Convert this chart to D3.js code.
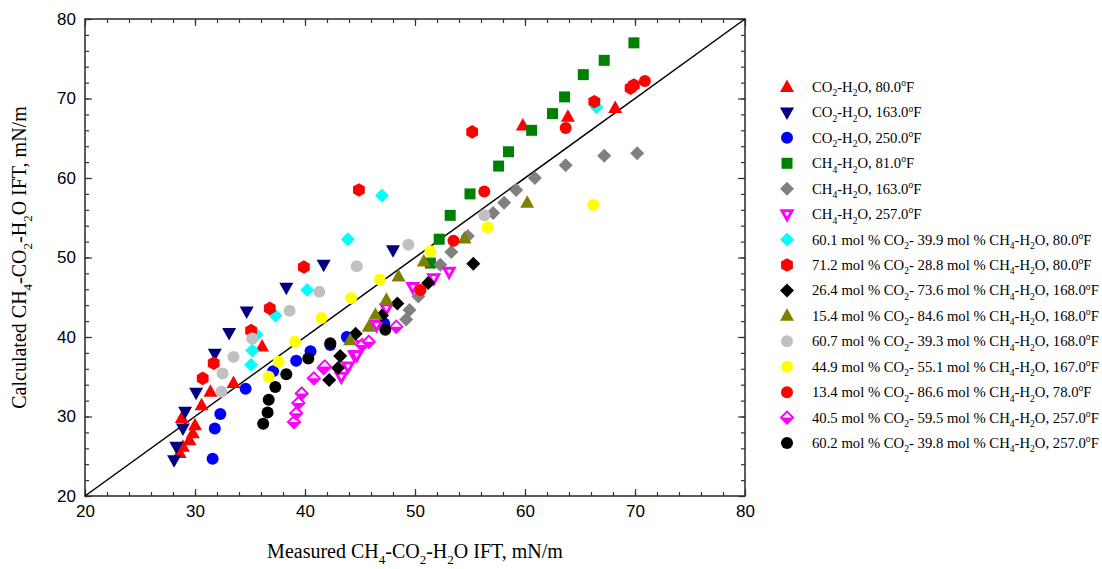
<!DOCTYPE html>
<html>
<head>
<meta charset="utf-8">
<script src="https://cdn.jsdelivr.net/npm/d3@7"></script>
<style>
  body { margin: 0; background: #fff; }
  svg { display: block; }
</style>
</head>
<body>
<div id="chart"></div>
<script>
// measured (x) vs calculated (y) IFT
const co2h2o80 = [[28.6,25.4],[28.9,26.2],[29.5,27.0],[29.8,27.9],[30.0,28.9],[28.8,29.8],[30.6,31.4],[31.4,33.1],[33.5,34.2],[36.1,38.8],[59.8,66.6],[63.9,67.7],[68.2,68.8]];
const co2h2o163 = [[28.1,24.5],[28.3,26.2],[28.9,28.5],[29.1,30.6],[30.1,33.0],[31.8,37.9],[33.1,40.5],[34.7,43.2],[38.3,46.2],[41.7,49.1],[48.0,50.9]];
const co2h2o250 = [[31.6,24.7],[31.8,28.5],[32.3,30.3],[34.6,33.5],[37.1,35.7],[39.2,37.0],[40.5,38.2],[42.3,39.0],[43.8,40.0],[47.2,41.7]];
const ch4h2o81 = [[51.4,49.3],[52.2,52.3],[53.2,55.3],[55.0,58.0],[57.6,61.5],[58.5,63.3],[60.6,66.0],[62.5,68.1],[63.6,70.2],[65.3,73.0],[67.2,74.8],[69.9,77.0]];
const ch4h2o163 = [[49.2,42.2],[49.5,43.4],[50.3,45.1],[52.3,49.1],[53.3,50.7],[54.8,52.7],[57.1,55.6],[58.1,56.9],[59.2,58.5],[60.9,60.0],[63.7,61.6],[67.2,62.8],[70.2,63.1]];
const ch4h2o257 = [[43.3,35.0],[43.9,36.3],[44.5,37.7],[44.7,37.7],[45.2,39.0],[46.5,41.5],[47.4,43.6],[49.8,46.3],[51.7,47.4],[53.1,48.2]];
const mix601_80 = [[35.1,36.5],[35.2,38.3],[35.6,40.3],[37.3,42.7],[40.2,45.9],[43.9,52.3],[47.0,57.8],[66.5,68.9]];
const mix712_80 = [[30.7,34.8],[31.7,36.7],[35.1,40.8],[36.8,43.6],[39.9,48.8],[44.9,58.5],[55.2,65.8],[66.3,69.6],[69.6,71.3],[69.9,71.7]];
const mix264_168 = [[42.2,34.6],[43.0,36.1],[43.2,37.6],[44.6,40.4],[47.0,42.7],[48.4,44.2],[51.2,46.8],[55.3,49.2]];
const mix154_168 = [[44.1,39.6],[45.8,41.3],[46.4,42.8],[47.4,44.7],[48.5,47.6],[50.8,49.5],[54.5,52.4],[60.2,56.9]];
const mix607_168 = [[32.4,33.1],[32.5,35.4],[33.5,37.5],[35.2,39.8],[38.6,43.3],[41.3,45.7],[44.7,48.9],[49.4,51.6],[56.3,55.3]];
const mix449_167 = [[36.7,35.0],[37.6,36.9],[39.1,39.4],[41.5,42.4],[44.2,44.9],[46.8,47.2],[51.4,50.8],[56.6,53.8],[66.2,56.6]];
const mix134_78 = [[50.5,45.9],[53.5,52.1],[56.3,58.3],[63.7,66.3],[70.9,72.2]];
const mix405_257 = [[39.0,29.3],[39.2,30.4],[39.4,31.7],[39.7,32.9],[40.8,34.8],[41.7,36.1],[41.8,36.3],[45.2,39.0],[45.8,39.4],[48.3,41.3]];
const mix602_257 = [[36.2,29.1],[36.6,30.5],[36.7,32.1],[37.3,33.7],[38.3,35.3],[40.3,37.3],[42.3,39.2],[47.3,40.9]];

const seriesData = [co2h2o80, co2h2o163, co2h2o250, ch4h2o81, ch4h2o163, ch4h2o257, mix601_80, mix712_80,
  mix264_168, mix154_168, mix607_168, mix449_167, mix134_78, mix405_257, mix602_257];
const seriesLabels = [
  'CO_2-H_2O, 80.0^oF',
  'CO_2-H_2O, 163.0^oF',
  'CO_2-H_2O, 250.0^oF',
  'CH_4-H_2O, 81.0^oF',
  'CH_4-H_2O, 163.0^oF',
  'CH_4-H_2O, 257.0^oF',
  '60.1 mol % CO_2- 39.9 mol % CH_4-H_2O, 80.0^oF',
  '71.2 mol % CO_2- 28.8 mol % CH_4-H_2O, 80.0^oF',
  '26.4 mol % CO_2- 73.6 mol % CH_4-H_2O, 168.0^oF',
  '15.4 mol % CO_2- 84.6 mol % CH_4-H_2O, 168.0^oF',
  '60.7 mol % CO_2- 39.3 mol % CH_4-H_2O, 168.0^oF',
  '44.9 mol % CO_2- 55.1 mol % CH_4-H_2O, 167.0^oF',
  '13.4 mol % CO_2- 86.6 mol % CH_4-H_2O, 78.0^oF',
  '40.5 mol % CO_2- 59.5 mol % CH_4-H_2O, 257.0^oF',
  '60.2 mol % CO_2- 39.8 mol % CH_4-H_2O, 257.0^oF'
];
const seriesColors = ['#ff0000', '#000080', '#0000ff', '#008000', '#808080', '#ff00ff', '#00ffff', '#ff0000',
  '#000000', '#808000', '#c0c0c0', '#ffff00', '#ff0000', '#ff00ff', '#000000'];
const seriesShapes = ['up', 'down', 'circle', 'square', 'diamond', 'downOpen', 'diamond', 'hex',
  'diamond', 'up', 'circle', 'circle', 'circle', 'halfDiamond', 'circle'];
const majorTicks = [20, 30, 40, 50, 60, 70, 80];
const minorTicks = d3.range(20, 81, 2);

const W = 1102, H = 569;
const svg = d3.select('#chart').append('svg').attr('width', W).attr('height', H);

const x = d3.scaleLinear().domain([20, 80]).range([85, 745]);
const y = d3.scaleLinear().domain([20, 80]).range([496, 19]);

const axisColor = '#333';
const tickFont = '"Liberation Sans", Arial, sans-serif';
const serif = '"Liberation Serif", "Times New Roman", serif';

// minor ticks on all four sides
function ticks(axis, size) { return axis.tickValues(minorTicks).tickSize(size).tickFormat(''); }
const g1 = svg.append('g').attr('transform', `translate(0,${y(20)})`).call(ticks(d3.axisBottom(x), -4));
const g2 = svg.append('g').attr('transform', `translate(0,${y(80)})`).call(ticks(d3.axisTop(x), -4));
const g3 = svg.append('g').attr('transform', `translate(${x(20)},0)`).call(ticks(d3.axisLeft(y), -4));
const g4 = svg.append('g').attr('transform', `translate(${x(80)},0)`).call(ticks(d3.axisRight(y), -4));

// major ticks + labels
const xb = svg.append('g').attr('transform', `translate(0,${y(20)})`)
  .call(d3.axisBottom(x).tickValues(majorTicks).tickSize(-7).tickPadding(9).tickFormat(d3.format('d')));
const yl = svg.append('g').attr('transform', `translate(${x(20)},0)`)
  .call(d3.axisLeft(y).tickValues(majorTicks).tickSize(-7).tickPadding(9).tickFormat(d3.format('d')));
const xt = svg.append('g').attr('transform', `translate(0,${y(80)})`)
  .call(d3.axisTop(x).tickValues(majorTicks).tickSize(-7).tickFormat(''));
const yr = svg.append('g').attr('transform', `translate(${x(80)},0)`)
  .call(d3.axisRight(y).tickValues(majorTicks).tickSize(-7).tickFormat(''));

[g1, g2, g3, g4, xb, yl, xt, yr].forEach(g => {
  g.select('.domain').remove();
  g.selectAll('line').attr('stroke', axisColor).attr('stroke-width', 1.2);
  g.selectAll('text').filter(function () { return !this.textContent; }).remove();
  g.selectAll('text').attr('font-family', tickFont).attr('font-size', 17).attr('fill', '#000');
});

svg.append('rect')
  .attr('x', x(20)).attr('y', y(80))
  .attr('width', x(80) - x(20)).attr('height', y(20) - y(80))
  .attr('fill', 'none').attr('stroke', axisColor).attr('stroke-width', 1.6);

// 1:1 line
svg.append('line')
  .attr('x1', x(20)).attr('y1', y(20)).attr('x2', x(80)).attr('y2', y(80))
  .attr('stroke', '#000').attr('stroke-width', 1.5);

// marker shapes
function shapePath(shape) {
  const p = d3.path();
  if (shape === 'up') {
    p.moveTo(0, -7.5); p.lineTo(7, 5); p.lineTo(-7, 5); p.closePath();
  } else if (shape === 'down') {
    p.moveTo(0, 7.5); p.lineTo(7, -5); p.lineTo(-7, -5); p.closePath();
  } else if (shape === 'circle') {
    p.arc(0, 0, 6, 0, 2 * Math.PI);
  } else if (shape === 'square') {
    p.rect(-5.5, -5.5, 11, 11);
  } else if (shape === 'diamond') {
    p.moveTo(0, -7); p.lineTo(7, 0); p.lineTo(0, 7); p.lineTo(-7, 0); p.closePath();
  } else if (shape === 'hex') {
    for (let i = 0; i < 6; i++) {
      const a = Math.PI / 6 + i * Math.PI / 3;
      const px = 6.8 * Math.cos(a), py = 6.8 * Math.sin(a);
      if (i === 0) p.moveTo(px, py); else p.lineTo(px, py);
    }
    p.closePath();
  }
  return p.toString();
}

function drawMarker(g, shape, color) {
  if (shape === 'downOpen') {
    g.append('path').attr('d', 'M0,5.5L5,-3.5L-5,-3.5Z')
      .attr('fill', '#fff').attr('stroke', color).attr('stroke-width', 3);
    g.append('circle').attr('r', 1.2).attr('cy', -0.8).attr('fill', '#fff');
  } else if (shape === 'halfDiamond') {
    g.append('path').attr('d', 'M0,-6L6,0L0,6L-6,0Z')
      .attr('fill', '#fff').attr('stroke', color).attr('stroke-width', 2);
    g.append('path').attr('d', 'M-7,0L7,0L0,7Z').attr('fill', color);
  } else {
    g.append('path').attr('d', shapePath(shape)).attr('fill', color);
  }
}

const pts = svg.append('g');
seriesData.forEach((data, i) => {
  data.forEach(d => {
    const g = pts.append('g').attr('transform', `translate(${x(d[0])},${y(d[1])})`);
    drawMarker(g, seriesShapes[i], seriesColors[i]);
  });
});

// rich text: _N = subscript, ^o = superscript; baseline restored on the next run
function richText(textSel, str, size) {
  const parts = str.split(/(_\d|\^o)/).filter(s => s.length);
  let pending = 0;
  parts.forEach(s => {
    if (s[0] === '_') {
      textSel.append('tspan').attr('dy', pending + size * 0.3).attr('font-size', size * 0.65).text(s[1]);
      pending = -size * 0.3;
    } else if (s === '^o') {
      textSel.append('tspan').attr('dy', pending - size * 0.4).attr('font-size', size * 0.65).text('o');
      pending = size * 0.4;
    } else {
      textSel.append('tspan').attr('dy', pending).text(s);
      pending = 0;
    }
  });
}

// legend
const legend = svg.append('g');
seriesLabels.forEach((label, i) => {
  const ly = 87 + i * 25.43;
  const g = legend.append('g').attr('transform', `translate(787,${ly})`);
  drawMarker(g, seriesShapes[i], seriesColors[i]);
  const t = legend.append('text').attr('x', 812).attr('y', ly + 5)
    .attr('font-family', serif).attr('font-size', 14.7).attr('fill', '#000');
  richText(t, label, 14.7);
});

// axis titles
const xTitle = svg.append('text').attr('x', (x(20) + x(80)) / 2).attr('y', 558)
  .attr('text-anchor', 'middle').attr('font-family', serif).attr('font-size', 20);
richText(xTitle, 'Measured CH_4-CO_2-H_2O IFT, mN/m', 20);

const yTitle = svg.append('text').attr('transform', `translate(26,${(y(20) + y(80)) / 2}) rotate(-90)`)
  .attr('text-anchor', 'middle').attr('font-family', serif).attr('font-size', 20);
richText(yTitle, 'Calculated CH_4-CO_2-H_2O IFT, mN/m', 20);
</script>
</body>
</html>
